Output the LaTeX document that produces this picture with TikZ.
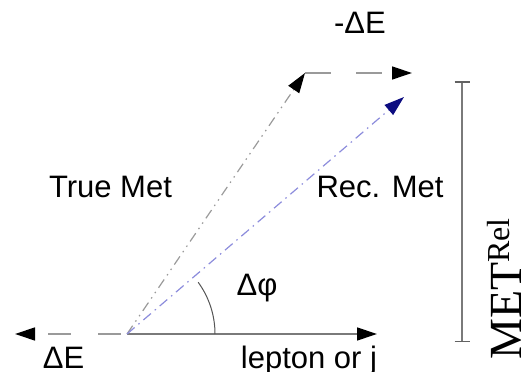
\documentclass[tikz,border=0pt]{standalone}
\usepackage{fontspec}
\setmainfont{Liberation Sans}
\newfontfamily\serifmet{Liberation Serif}
\usetikzlibrary{arrows.meta}
\definecolor{lgray}{HTML}{9A9A9A}
\definecolor{mgray}{HTML}{7A7A7A}
\definecolor{recblue}{HTML}{8C8CDC}
\definecolor{navyhead}{HTML}{0C0C80}
\tikzset{
  lbl/.style={font=\fontsize{31}{36}\selectfont, text=black, inner sep=0pt},
}
\begin{document}
\begin{tikzpicture}[x=1pt,y=1pt]
\useasboundingbox (0,0) rectangle (525,372);
\coordinate (O) at (127,38);
\coordinate (L) at (377,38);
\coordinate (DE) at (15,38);
\coordinate (T) at (305,299);
\coordinate (TD) at (412,299);
\coordinate (R) at (404,275);
\coordinate (B1) at (462,290);
\coordinate (B2) at (462,30.5);
% lepton axis
\draw[mgray, line width=1.3pt, arrows={-{Triangle[length=20pt,width=13pt,color=black]}}] (O) -- (L);
% Delta E leftwards
\draw[lgray, line width=1.3pt, dash pattern=on 23pt off 27pt, dash phase=43.5pt,
  arrows={-{Triangle[length=20pt,width=13pt,color=black]}}] (O) -- (DE);
% True Met
\draw[lgray, line width=1.2pt, dash pattern=on 10pt off 5pt on 1.5pt off 5pt on 1.5pt off 5pt,
  arrows={-{Triangle[length=20pt,width=13pt,color=black]}}] (O) -- (T);
% -Delta E
\draw[lgray, line width=1.3pt, dash pattern=on 26pt off 25pt,
  arrows={-{Triangle[length=20pt,width=13pt,color=black]}}] (T) -- (TD);
% Rec Met
\draw[recblue, line width=1.2pt, dash pattern=on 10pt off 5pt on 1.5pt off 5pt,
  arrows={-{Triangle[length=20pt,width=13pt,color=navyhead]}}] (O) -- (R);
% angle arc
\draw[mgray!70!black, line width=1pt] ([shift={(0:88pt)}]O) arc[start angle=0, end angle=36, radius=88pt];
% MET bar
\draw[mgray, line width=1.5pt] (B1) -- (B2);
\draw[mgray!80!black, line width=1.5pt] ([xshift=-7.5pt]B1) -- ([xshift=7.5pt]B1);
\draw[mgray!80!black, line width=1.5pt] ([xshift=-7.5pt]B2) -- ([xshift=7.5pt]B2);
% labels
\node[lbl, anchor=base] (lmde) at (360,338.5) {-ΔE};
\node[lbl, anchor=base] (ltrue) at (110.5,174.5) {True Met};
\node[lbl, anchor=base] (lrec) at (380,174.5) {Rec. Met};
\node[lbl, anchor=base] (lphi) at (257,76) {Δφ};
\node[lbl, anchor=base] (lde) at (63.6,3) {ΔE};
\node[lbl, anchor=base] (llep) at (309,3) {lepton or j};
\node[inner sep=0pt, rotate=90, anchor=base west, font=\serifmet\fontsize{46}{50}\selectfont] (lmet) at (521,12)
  {MET\raisebox{12pt}{\fontsize{32}{36}\selectfont Rel}};
\end{tikzpicture}
\end{document}
